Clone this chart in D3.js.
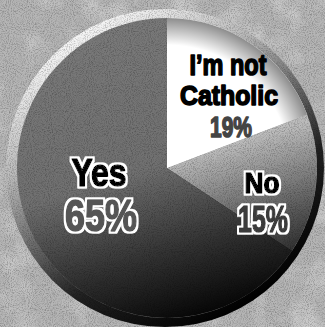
<!DOCTYPE html>
<html lang="en">
<head>
<meta charset="utf-8">
<title>Catholic poll pie</title>
<script src="https://cdn.jsdelivr.net/npm/d3@7"></script>
<style>
body { margin: 0; background: #b3b3b3; }
.lbl { font-family: "Liberation Sans", Arial, sans-serif; font-weight: bold; text-anchor: middle; paint-order: stroke; stroke-linejoin: round; }
</style>
</head>
<body>
<div id="container"></div>
<script>
// data
var answers = ["I\u2019m not Catholic", "No", "Yes"];
var percents = [19, 15, 65];
var sliceColors = ["#ffffff", "#cdcdcd", "#7a7a7a"];

var w = 325, h = 327;
var cx = 167, cy = 168, r = 150;

var svg = d3.select("div#container").append("svg")
    .attr("width", w).attr("height", h);

var defs = svg.append("defs");

// grainy halftone look
var grain = defs.append("filter").attr("id", "grain").attr("x", 0).attr("y", 0).attr("width", "100%").attr("height", "100%");
grain.append("feTurbulence").attr("type", "fractalNoise").attr("baseFrequency", 0.95).attr("numOctaves", 2).attr("seed", 4);
grain.append("feColorMatrix").attr("type", "matrix")
    .attr("values", "0 0 0 0 0  0 0 0 0 0  0 0 0 0 0  0 0 0 -2.2 1.25");

var blotch = defs.append("filter").attr("id", "blotch").attr("x", 0).attr("y", 0).attr("width", "100%").attr("height", "100%");
blotch.append("feTurbulence").attr("type", "fractalNoise").attr("baseFrequency", 0.03).attr("numOctaves", 3).attr("seed", 9);
blotch.append("feColorMatrix").attr("type", "matrix")
    .attr("values", "0 0 0 0 1  0 0 0 0 1  0 0 0 0 1  0 0 0 1.6 -0.7");

// white halo behind the Yes / No labels
var halo = defs.append("filter").attr("id", "halo").attr("x", "-20%").attr("y", "-20%").attr("width", "140%").attr("height", "140%");
halo.append("feMorphology").attr("in", "SourceAlpha").attr("operator", "dilate").attr("radius", 2).attr("result", "fat");
halo.append("feFlood").attr("flood-color", "#fff").attr("result", "white");
halo.append("feComposite").attr("in", "white").attr("in2", "fat").attr("operator", "in").attr("result", "ring");
var hm = halo.append("feMerge");
hm.append("feMergeNode").attr("in", "ring");
hm.append("feMergeNode").attr("in", "SourceGraphic");

var rim = defs.append("linearGradient").attr("id", "rim")
    .attr("x1", "0.2").attr("y1", "0.05").attr("x2", "0.75").attr("y2", "0.95");
rim.append("stop").attr("offset", "0").attr("stop-color", "#ffffff");
rim.append("stop").attr("offset", "0.3").attr("stop-color", "#b8b8b8");
rim.append("stop").attr("offset", "0.7").attr("stop-color", "#222");
rim.append("stop").attr("offset", "1").attr("stop-color", "#000");

var shade = defs.append("linearGradient").attr("id", "shade")
    .attr("x1", "0.3").attr("y1", "0").attr("x2", "0.6").attr("y2", "1");
shade.append("stop").attr("offset", "0").attr("stop-color", "#000").attr("stop-opacity", 0);
shade.append("stop").attr("offset", "0.5").attr("stop-color", "#000").attr("stop-opacity", 0.08);
shade.append("stop").attr("offset", "0.78").attr("stop-color", "#000").attr("stop-opacity", 0.6);
shade.append("stop").attr("offset", "1").attr("stop-color", "#000").attr("stop-opacity", 0.95);

var edge = defs.append("radialGradient").attr("id", "edge")
    .attr("gradientUnits", "userSpaceOnUse")
    .attr("cx", 0).attr("cy", 0).attr("r", r);
edge.append("stop").attr("offset", "0.82").attr("stop-color", "#000").attr("stop-opacity", 0);
edge.append("stop").attr("offset", "1").attr("stop-color", "#000").attr("stop-opacity", 0.45);

// background paper
svg.append("rect").attr("width", w).attr("height", h).attr("fill", "#b5b5b5");
svg.append("rect").attr("width", w).attr("height", h).attr("filter", "url(#blotch)").attr("opacity", 0.5);

// outer bevel of the button
svg.append("circle").attr("cx", cx - 2).attr("cy", cy).attr("r", r + 9).attr("fill", "url(#rim)");

var pie = d3.pie().sort(null).value(function(d) { return d; });
var arc = d3.arc().innerRadius(0).outerRadius(r);
var slices = pie(percents);

var g = svg.append("g").attr("transform", "translate(" + cx + "," + cy + ")");
g.selectAll("path")
    .data(slices)
    .enter()
    .append("path")
        .attr("d", arc)
        .attr("fill", function(d, i) { return sliceColors[i]; });

// shading toward the bottom
svg.append("circle").attr("cx", cx).attr("cy", cy).attr("r", r).attr("fill", "url(#shade)");

// grain over the paper and darker slices
svg.append("rect").attr("width", w).attr("height", h).attr("filter", "url(#grain)").attr("opacity", 0.28);

// white slice stays clean, only a soft edge near the rim
var whiteG = svg.append("g").attr("transform", "translate(" + cx + "," + cy + ")");
whiteG.append("path").attr("d", arc(slices[0])).attr("fill", sliceColors[0]);
whiteG.append("path").attr("d", arc(slices[0])).attr("fill", "url(#edge)");

// labels: one text per slice, lines as tspans
// each line: [text, x, baseline, size, width, colour]
function label(lines, outlined) {
    var t = svg.append("text").attr("class", "lbl");
    if (outlined) t.attr("filter", "url(#halo)");
    lines.forEach(function(l) {
        t.append("tspan")
            .attr("x", l[1]).attr("y", l[2])
            .attr("font-size", l[3])
            .attr("textLength", l[4]).attr("lengthAdjust", "spacingAndGlyphs")
            .attr("fill", l[5]).attr("stroke", l[5]).attr("stroke-width", 1.6)
            .text(l[0]);
    });
}
var notCath = answers[0].split(" ");
label([
    [notCath[0] + " " + notCath[1], 228, 75, 30, 77, "#000"],
    [notCath[2], 229, 105, 28, 98, "#000"],
    [percents[0] + "%", 231, 137, 30, 42, "#444"]
], false);
label([
    [answers[2], 99, 186, 39, 55, "#000"],
    [percents[2] + "%", 101, 231, 45, 72, "#555"]
], true);
label([
    [answers[1], 262, 193, 30, 35, "#000"],
    [percents[1] + "%", 263, 232, 36, 50, "#3a3a3a"]
], true);
</script>
</body>
</html>
